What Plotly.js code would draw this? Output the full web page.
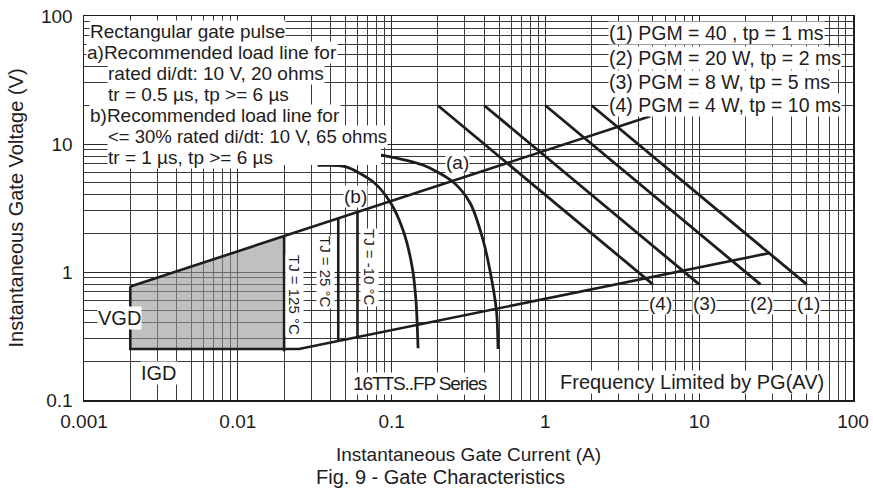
<!DOCTYPE html>
<html>
<head>
<meta charset="utf-8">
<script src="https://cdn.plot.ly/plotly-3.0.1.min.js"></script>
<style>
html,body{margin:0;padding:0;background:#fff;}
#chart{width:873px;height:491px;}
</style>
</head>
<body>
<div id="chart"></div>
<script>
// ---- tick labels ----
const xTickVals = [0.001, 0.01, 0.1, 1, 10, 100];
const xTickText = ['0.001', '0.01', '0.1', '1', '10', '100'];
const yTickVals = [0.1, 1, 10, 100];
const yTickText = ['0.1', '1', '10', '100'];

// ---- shaded gate-trigger region (I in A, V in V) ----
const regionI = [0.002, 0.002, 0.02, 0.02, 0.002];
const regionV = [0.25, 0.77, 1.91, 0.25, 0.25];

// ---- load lines ----
const upperLineI = [0.002, 4.8];
const upperLineV = [0.77, 16.5];
const lowerLineI = [0.002, 0.002, 0.02, 0.025, 29];
const lowerLineV = [0.77, 0.25, 0.25, 0.25, 1.41];

// ---- temperature lines ----
const tj125I = [0.02, 0.02];
const tj125V = [0.24, 1.91];
const tj25I = [0.045, 0.045];
const tj25V = [0.29, 2.6];
const tjm10I = [0.06, 0.06];
const tjm10V = [0.31, 2.93];

// ---- characteristic curves ----
const innerCurveI = [0.033, 0.05, 0.0757, 0.0976, 0.1186, 0.136, 0.144, 0.1486];
const innerCurveV = [6.8, 6.65, 5.07, 3.54, 2.13, 1.10, 0.60, 0.254];
const outerCurveI = [0.07, 0.086, 0.16, 0.25, 0.324, 0.393, 0.448, 0.482, 0.492];
const outerCurveV = [8.5, 8.2, 6.85, 5.07, 3.46, 1.78, 0.866, 0.479, 0.25];

// ---- peak gate power lines ----
const pgm1I = [2, 50];   const pgm1V = [20, 0.8];
const pgm2I = [1, 25];   const pgm2V = [20, 0.8];
const pgm3I = [0.4, 10]; const pgm3V = [20, 0.8];
const pgm4I = [0.2, 5];  const pgm4V = [20, 0.8];

// minor gridline positions (2..9 of each decade)
function minors(lo, hi) {
  const out = [];
  for (let e = lo; e < hi; e++) for (let m = 2; m <= 9; m++) out.push(m * Math.pow(10, e));
  return out;
}

const INK = '#1e1c1d';
const FONT = '"Liberation Sans", Arial, sans-serif';

function line(x, y, w, extra) {
  return Object.assign({x: x, y: y, mode: 'lines', type: 'scatter', hoverinfo: 'skip',
    line: {color: INK, width: w}}, extra || {});
}

const traces = [
  {x: regionI, y: regionV, mode: 'lines', type: 'scatter', fill: 'toself',
   fillcolor: 'rgba(150,150,150,0.6)', line: {color: '#1a9a3a', width: 1.2}, hoverinfo: 'skip'},
  line(upperLineI, upperLineV, 2.6),
  line(lowerLineI, lowerLineV, 2.6),
  line(tj125I, tj125V, 2.6),
  line(tj25I, tj25V, 2.6),
  line(tjm10I, tjm10V, 2.6),
  line(innerCurveI, innerCurveV, 2.8, {line: {color: INK, width: 2.8, shape: 'spline', smoothing: 0.8}}),
  line(outerCurveI, outerCurveV, 2.8, {line: {color: INK, width: 2.8, shape: 'spline', smoothing: 0.8}}),
  line(pgm1I, pgm1V, 2.8),
  line(pgm2I, pgm2V, 2.8),
  line(pgm3I, pgm3V, 2.8),
  line(pgm4I, pgm4V, 2.8)
];

// plot area in pixels: x 84..853, y 16..400
const L = 84, R = 853, T = 16, B = 400;
const PX = p => (p - L) / (R - L);
const PY = p => (B - p) / (B - T);

function note(text, px, py, opts) {
  return Object.assign({
    text: text, xref: 'paper', yref: 'paper', x: PX(px), y: PY(py),
    xanchor: 'center', yanchor: 'middle', showarrow: false,
    bgcolor: '#ffffff', borderpad: 0,
    font: {family: FONT, size: 19, color: INK}
  }, opts || {});
}

const annotations = [
  note('Rectangular gate pulse', 89, 31, {xanchor: 'left'}),
  note('a)Recommended load line for', 86, 52, {xanchor: 'left'}),
  note('rated di/dt: 10 V, 20 ohms', 107, 73, {xanchor: 'left'}),
  note('tr = 0.5 µs, tp &gt;= 6 µs', 107, 94, {xanchor: 'left'}),
  note('b)Recommended load line for', 89, 116, {xanchor: 'left'}),
  note('&lt;= 30% rated di/dt: 10 V, 65 ohms', 107, 136, {xanchor: 'left', font: {family: FONT, size: 18.5, color: INK}}),
  note('tr = 1 µs, tp &gt;= 6 µs', 107, 157, {xanchor: 'left'}),

  note('(1) PGM = 40 , tp = 1 ms', 608, 33, {xanchor: 'left', font: {family: FONT, size: 19.5, color: INK}}),
  note('(2) PGM = 20 W, tp = 2 ms', 608, 58, {xanchor: 'left', font: {family: FONT, size: 19.5, color: INK}}),
  note('(3) PGM = 8 W, tp = 5 ms', 608, 82, {xanchor: 'left', font: {family: FONT, size: 19.5, color: INK}}),
  note('(4) PGM = 4 W, tp = 10 ms', 608, 105, {xanchor: 'left', font: {family: FONT, size: 19.5, color: INK}}),

  note('(a)', 457, 162),
  note('(b)', 355, 196),
  note('(4)', 660, 303),
  note('(3)', 704, 303),
  note('(2)', 761, 303),
  note('(1)', 808, 303),

  note('TJ = 125 °C', 295, 295, {textangle: 90, font: {family: FONT, size: 15, color: INK}}),
  note('TJ = 25 °C', 326, 272, {textangle: 90, font: {family: FONT, size: 15, color: INK}}),
  note('TJ = -10 °C', 370, 267, {textangle: 90, font: {family: FONT, size: 15, color: INK}}),

  note('VGD', 119, 318, {font: {family: FONT, size: 20, color: INK}}),
  note('IGD', 159, 373, {font: {family: FONT, size: 20, color: INK}}),
  note('<span style="letter-spacing:-1.1px">16TTS..FP Series</span>', 420, 383, {font: {family: FONT, size: 19, color: INK}}),
  note('Frequency Limited by PG(AV)', 692, 382, {font: {family: FONT, size: 20, color: INK}}),

  note('Fig. 9 - Gate Characteristics', 440, 477, {bgcolor: 'rgba(0,0,0,0)', font: {family: FONT, size: 20, color: INK}})
];

// white background patch of the note block (right of its last line)
const shapes = [
  {type: 'rect', xref: 'paper', yref: 'paper', x0: PX(268), x1: PX(381), y0: PY(165), y1: PY(146),
   fillcolor: '#ffffff', line: {width: 0}, layer: 'above'}
];

const axisCommon = {
  type: 'log', showline: true, mirror: true, linecolor: INK, linewidth: 1.5,
  showgrid: true, gridcolor: '#2a2a2a', gridwidth: 1, zeroline: false,
  ticks: '', tickfont: {family: FONT, size: 19, color: INK},
  tickmode: 'array'
};

const layout = {
  width: 873, height: 491,
  margin: {l: L, r: 873 - R, t: T, b: 491 - B},
  paper_bgcolor: '#fff', plot_bgcolor: '#fff',
  showlegend: false,
  xaxis: Object.assign({}, axisCommon, {
    range: [-3, 2], tickvals: xTickVals, ticktext: xTickText, ticklabelstandoff: 4,
    minor: {tickmode: 'array', tickvals: minors(-3, 2), showgrid: true, gridcolor: '#3a3a3a', gridwidth: 1, ticks: ''},
    title: {text: 'Instantaneous Gate Current (A)', standoff: 16, font: {family: FONT, size: 19, color: INK}}
  }),
  yaxis: Object.assign({}, axisCommon, {
    range: [-1, 2], tickvals: yTickVals, ticktext: yTickText, ticklabelstandoff: 6,
    minor: {tickmode: 'array', tickvals: minors(-1, 2), showgrid: true, gridcolor: '#3a3a3a', gridwidth: 1, ticks: ''},
    title: {text: 'Instantaneous Gate Voltage (V)', standoff: 12, font: {family: FONT, size: 20, color: INK}}
  }),
  shapes: shapes,
  annotations: annotations
};

Plotly.newPlot('chart', traces, layout, {staticPlot: true, displayModeBar: false});
</script>
</body>
</html>
